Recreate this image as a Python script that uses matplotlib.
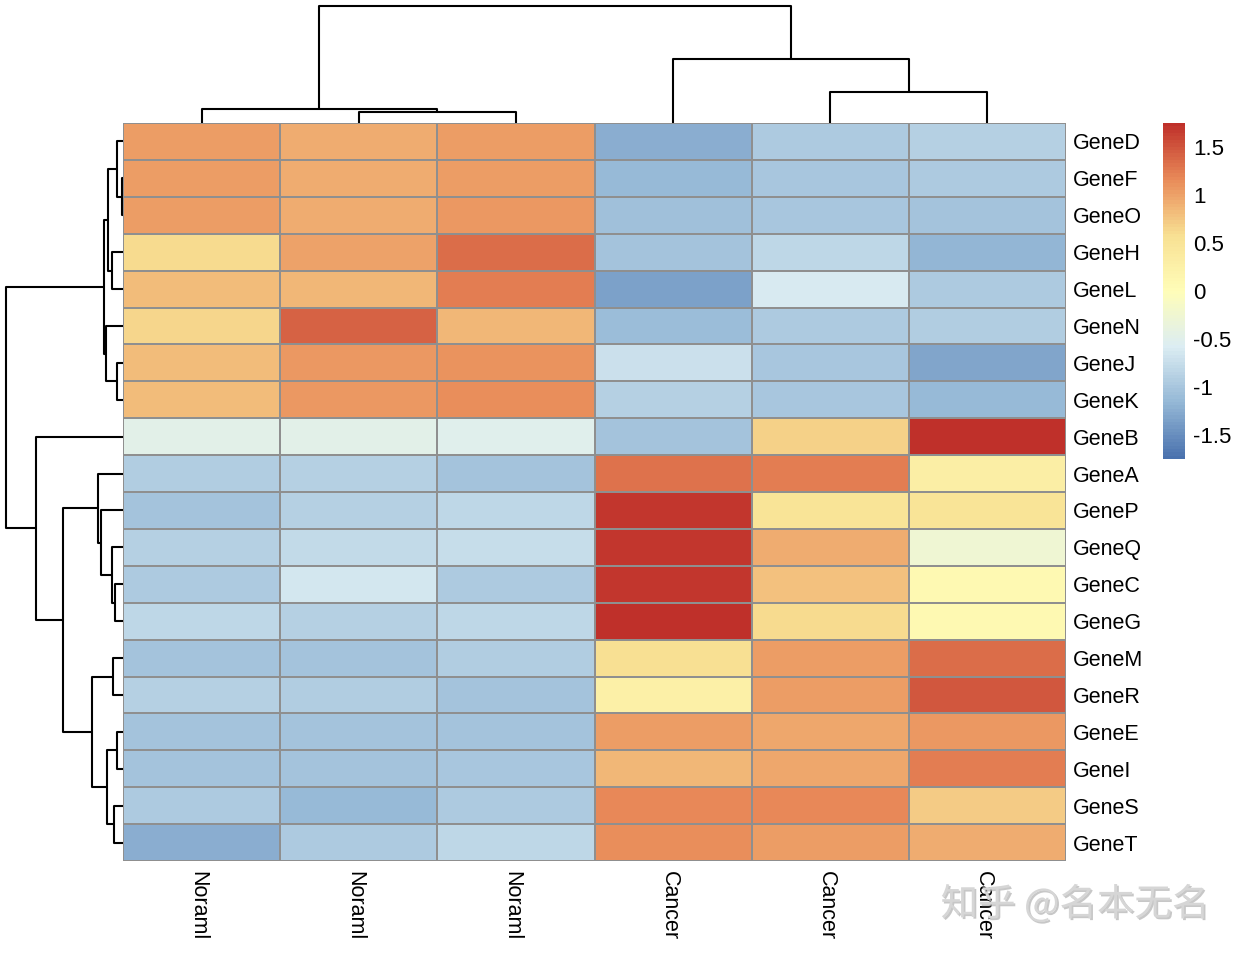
import numpy as np
import matplotlib
matplotlib.use("Agg")
import matplotlib.pyplot as plt
from matplotlib.colors import LinearSegmentedColormap
from matplotlib import patheffects as pe
from matplotlib.transforms import ScaledTranslation

# ---------------- data ----------------
genes = ["GeneD", "GeneF", "GeneO", "GeneH", "GeneL", "GeneN", "GeneJ", "GeneK",
         "GeneB", "GeneA", "GeneP", "GeneQ", "GeneC", "GeneG", "GeneM", "GeneR",
         "GeneE", "GeneI", "GeneS", "GeneT"]
samples = ["Noraml", "Noraml", "Noraml", "Cancer", "Cancer", "Cancer"]

normal1 = [1.04, 1.04, 1.04, 0.60, 0.82, 0.66, 0.82, 0.82, -0.47, -0.92,
           -1.05, -0.88, -0.96, -0.84, -1.05, -0.88, -1.05, -1.05, -0.98, -1.23]
normal2 = [0.94, 0.94, 0.94, 0.99, 0.87, 1.40, 1.06, 1.06, -0.47, -0.90,
           -0.89, -0.78, -0.66, -0.88, -1.02, -0.93, -1.02, -1.02, -1.13, -0.98]
normal3 = [1.04, 1.04, 1.08, 1.33, 1.23, 0.85, 1.10, 1.13, -0.52, -1.05,
           -0.84, -0.75, -0.97, -0.84, -0.93, -1.02, -1.03, -1.01, -0.98, -0.84]
cancer1 = [-1.24, -1.13, -1.08, -1.03, -1.35, -1.10, -0.71, -0.88, -1.05, 1.32,
           1.70, 1.70, 1.69, 1.75, 0.58, 0.25, 1.02, 0.85, 1.17, 1.12]
cancer2 = [-0.95, -1.00, -1.00, -0.84, -0.63, -0.95, -1.00, -1.00, 0.68, 1.24,
           0.50, 0.93, 0.78, 0.62, 1.04, 1.04, 0.95, 0.95, 1.17, 1.04]
cancer3 = [-0.90, -0.97, -1.05, -1.17, -0.98, -0.93, -1.32, -1.15, 1.75, 0.30,
           0.50, -0.28, 0.08, 0.07, 1.34, 1.50, 1.07, 1.24, 0.73, 0.91]

# row dendrogram (R hclust style: negative = leaf index (1-based), positive = earlier merge)
row_merge_a = [-2, -1, -4, 2, -7, -6, 4, -13, -12, -11, -10, -15, -17, -19, 13, 12, 11, -9, 7]
row_merge_b = [-3, 1, -5, 3, -8, 5, 6, -14, 8, 9, 10, -16, -18, -20, 14, 15, 16, 17, 18]
row_merge_h = [1.5, 5.7, 10.7, 14.7, 5.7, 17.0, 19.0, 8.0, 11.3, 22.3, 24.7,
               9.7, 6.3, 8.7, 16.3, 30.7, 59.7, 87.0, 117.3]

# column dendrogram
col_merge_a = [-2, -1, -5, -4, 2]
col_merge_b = [-3, 1, -6, 3, 4]
col_merge_h = [11.3, 13.7, 31.3, 64.0, 117.3]

legend_ticks = [-1.5, -1, -0.5, 0, 0.5, 1, 1.5]
legend_labels = ["-1.5", "-1", "-0.5", "0", "0.5", "1", "1.5"]

palette = ["#4A72AE", "#95B8D6", "#DCEDF3", "#FFFDB8", "#F8E093", "#E98B59", "#BF302A"]

# ---------------- figure ----------------
W, H = 1240, 956
fig = plt.figure(figsize=(W / 100, H / 100), dpi=100)
plt.rcParams['font.family'] = ['Liberation Sans', 'DejaVu Sans']


def px_axes(x0, y0, x1, y1):
    return fig.add_axes([x0 / W, 1 - y1 / H, (x1 - x0) / W, (y1 - y0) / H])


mat = np.array([normal1, normal2, normal3, cancer1, cancer2, cancer3]).T
m = np.abs(mat).max()
cmap = LinearSegmentedColormap.from_list("rdylbu", palette, N=100)

hx0, hy0, hx1, hy1 = 123, 123, 1066, 861
ax = px_axes(hx0, hy0, hx1, hy1)
nr, nc = mat.shape
mesh = ax.pcolormesh(np.arange(nc + 1), np.arange(nr + 1), mat, cmap=cmap,
                     vmin=-m, vmax=m, edgecolors="#8f8f8f", linewidth=1.1)
ax.set_xlim(0, nc)
ax.set_ylim(nr, 0)
for s in ax.spines.values():
    s.set_visible(False)
ax.yaxis.tick_right()
ax.set_yticks(np.arange(nr) + 0.5)
ax.set_yticklabels(genes, fontsize=15.5)
ax.set_xticks(np.arange(nc) + 0.5)
ax.set_xticklabels(samples, fontsize=15.5, rotation=270, rotation_mode="anchor")
ax.tick_params(axis="both", length=0)
ax.tick_params(axis="y", pad=5)
ax.tick_params(axis="x", pad=7)
shift = ScaledTranslation(-4 / 100, 0, fig.dpi_scale_trans)
for t in ax.get_xticklabels():
    t.set_ha("left")
    t.set_va("center")
    t.set_transform(t.get_transform() + shift)


def dendro(merge_a, merge_b, merge_h, leaf_pos, axd, orient):
    pos, hgt = {}, {}

    def get(i):
        if i < 0:
            return leaf_pos[-i - 1], 0.0
        return pos[i], hgt[i]

    for k, (a, b, h) in enumerate(zip(merge_a, merge_b, merge_h), start=1):
        pa, ha = get(a)
        pb, hb = get(b)
        xs = [pa, pa, pb, pb]
        ys = [ha, h, h, hb]
        if orient == "top":
            axd.plot(xs, ys, color="black", lw=1.5, solid_capstyle="butt")
        else:
            axd.plot(ys, xs, color="black", lw=1.5, solid_capstyle="butt")
        pos[k] = (pa + pb) / 2
        hgt[k] = h


# column dendrogram
axc = px_axes(hx0, 0, hx1, hy0)
dendro(col_merge_a, col_merge_b, col_merge_h, np.arange(nc) + 0.5, axc, "top")
axc.set_xlim(0, nc)
axc.set_ylim(0, hy0)
axc.axis("off")

# row dendrogram
axr = px_axes(0, hy0, hx0, hy1)
dendro(row_merge_a, row_merge_b, row_merge_h, np.arange(nr) + 0.5, axr, "left")
axr.set_xlim(hx0, 0)
axr.set_ylim(nr, 0)
axr.axis("off")

# colour legend
cax = px_axes(1163, 123, 1185, 459)
cb = fig.colorbar(mesh, cax=cax, ticks=legend_ticks)
cb.set_ticklabels(legend_labels)
cb.outline.set_visible(False)
cax.tick_params(length=0, labelsize=16, pad=6)

# watermark
fig.text(1075 / W, 1 - 905 / H, "知乎 @名本无名", fontsize=27, color="#d6d6d6",
         ha="center", va="center", family=["Noto Sans CJK SC", "DejaVu Sans"],
         path_effects=[pe.withSimplePatchShadow(offset=(1.2, -1.2), shadow_rgbFace="#b0b0b0", alpha=0.7)],
         zorder=0)

fig.savefig("out.png", dpi=100)
